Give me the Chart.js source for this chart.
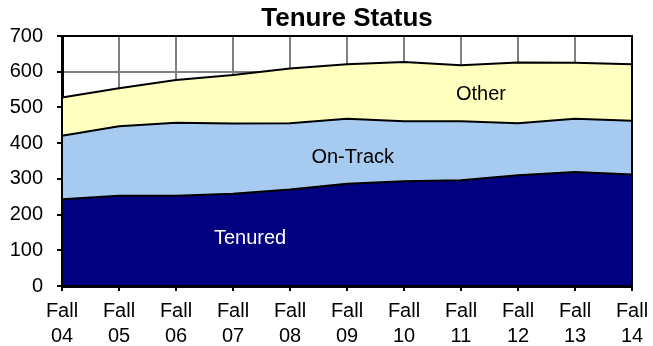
<!DOCTYPE html>
<html>
<head>
<meta charset="utf-8">
<script src="https://cdn.jsdelivr.net/npm/chart.js@4/dist/chart.umd.min.js"></script>
<style>
  html, body { margin: 0; padding: 0; background: #fff; }
  #wrap { width: 653px; height: 346px; }
</style>
</head>
<body>
<div id="wrap"><canvas id="tenureChart"></canvas></div>
<script>
// headcount by fall term
const terms = ['04', '05', '06', '07', '08', '09', '10', '11', '12', '13', '14'];
const tenured = [243, 253, 253, 258, 270, 286, 293, 296, 310, 319, 312];
const onTrack = [178, 194, 204, 197, 186, 182, 168, 165, 146, 149, 151];
const other = [107, 107, 120, 136, 153, 153, 166, 157, 170, 157, 158];
const yTicks = [0, 100, 200, 300, 400, 500, 600, 700];

// series name, fill colour, label colour, label anchor (category index, value)
const seriesNames = ['Tenured', 'On-Track', 'Other'];
const seriesFills = ['#000080', '#A6CAF0', '#FFFFC0'];
const seriesLabelColors = ['#ffffff', '#000000', '#000000'];
const seriesLabelAt = [[3.3, 134], [5.1, 360], [7.35, 535]];

const chartTitle = 'Tenure Status';
const FONT = '"Liberation Sans", Arial, sans-serif';

// writes the series names inside their areas
const areaLabels = {
    id: 'areaLabels',
    afterDatasetsDraw(chart) {
        const ctx = chart.ctx;
        const x = chart.scales.x;
        const y = chart.scales.y;
        ctx.save();
        ctx.font = '20px ' + FONT;
        ctx.textAlign = 'center';
        ctx.textBaseline = 'middle';
        seriesNames.forEach((name, i) => {
            ctx.fillStyle = seriesLabelColors[i];
            ctx.fillText(name, x.getPixelForValue(seriesLabelAt[i][0]), y.getPixelForValue(seriesLabelAt[i][1]));
        });
        ctx.restore();
    }
};

// black frame round the plot area, title centred over it
const plotFrame = {
    id: 'plotFrame',
    afterDatasetsDraw(chart) {
        const a = chart.chartArea;
        const ctx = chart.ctx;
        ctx.save();
        ctx.strokeStyle = '#000';
        ctx.lineWidth = 2;
        ctx.strokeRect(a.left, a.top, a.right - a.left, a.bottom - a.top);
        ctx.fillStyle = '#000';
        ctx.font = 'bold 26px ' + FONT;
        ctx.textAlign = 'center';
        ctx.textBaseline = 'alphabetic';
        ctx.fillText(chartTitle, (a.left + a.right) / 2, a.top - 10);
        ctx.restore();
    }
};

const datasets = [tenured, onTrack, other].map((values, i) => ({
    label: seriesNames[i],
    data: values,
    backgroundColor: seriesFills[i],
    borderColor: '#000',
    borderWidth: 2,
    pointRadius: 0,
    tension: 0,
    fill: i === 0 ? 'origin' : '-1'
}));

const ctx = document.getElementById('tenureChart').getContext('2d');
const tenureChart = new Chart(ctx, {
    type: 'line',
    data: {
        labels: terms.map(t => ['Fall', t]),
        datasets: datasets
    },
    plugins: [areaLabels, plotFrame],
    options: {
        responsive: true,
        maintainAspectRatio: false,
        animation: false,
        layout: {
            padding: { left: 0, right: 21, top: 36, bottom: 0 }
        },
        plugins: {
            legend: { display: false },
            tooltip: { enabled: false },
            title: { display: false }
        },
        scales: {
            x: {
                offset: false,
                grid: {
                    color: '#808080',
                    lineWidth: 2,
                    tickColor: '#000',
                    tickLength: 5,
                    drawOnChartArea: true
                },
                border: { color: '#000', width: 3 },
                ticks: {
                    color: '#000',
                    font: { family: FONT, size: 20, lineHeight: 1.25 },
                    maxRotation: 0,
                    autoSkip: false,
                    padding: 8
                },
                afterFit(scale) {
                    scale.height = 60;
                    scale.paddingLeft = 0;
                    scale.paddingRight = 0;
                }
            },
            y: {
                stacked: true,
                min: 0,
                max: 700,
                afterBuildTicks(scale) { scale.ticks = yTicks.map(v => ({ value: v })); },
                grid: {
                    color: '#808080',
                    lineWidth: 2,
                    tickColor: '#000',
                    tickLength: 5
                },
                border: { color: '#000', width: 3 },
                ticks: {
                    color: '#000',
                    font: { family: FONT, size: 20 },
                    padding: 14
                },
                afterFit(scale) {
                    scale.width = 62;
                    scale.paddingTop = 0;
                    scale.paddingBottom = 0;
                }
            }
        }
    }
});
</script>
</body>
</html>
